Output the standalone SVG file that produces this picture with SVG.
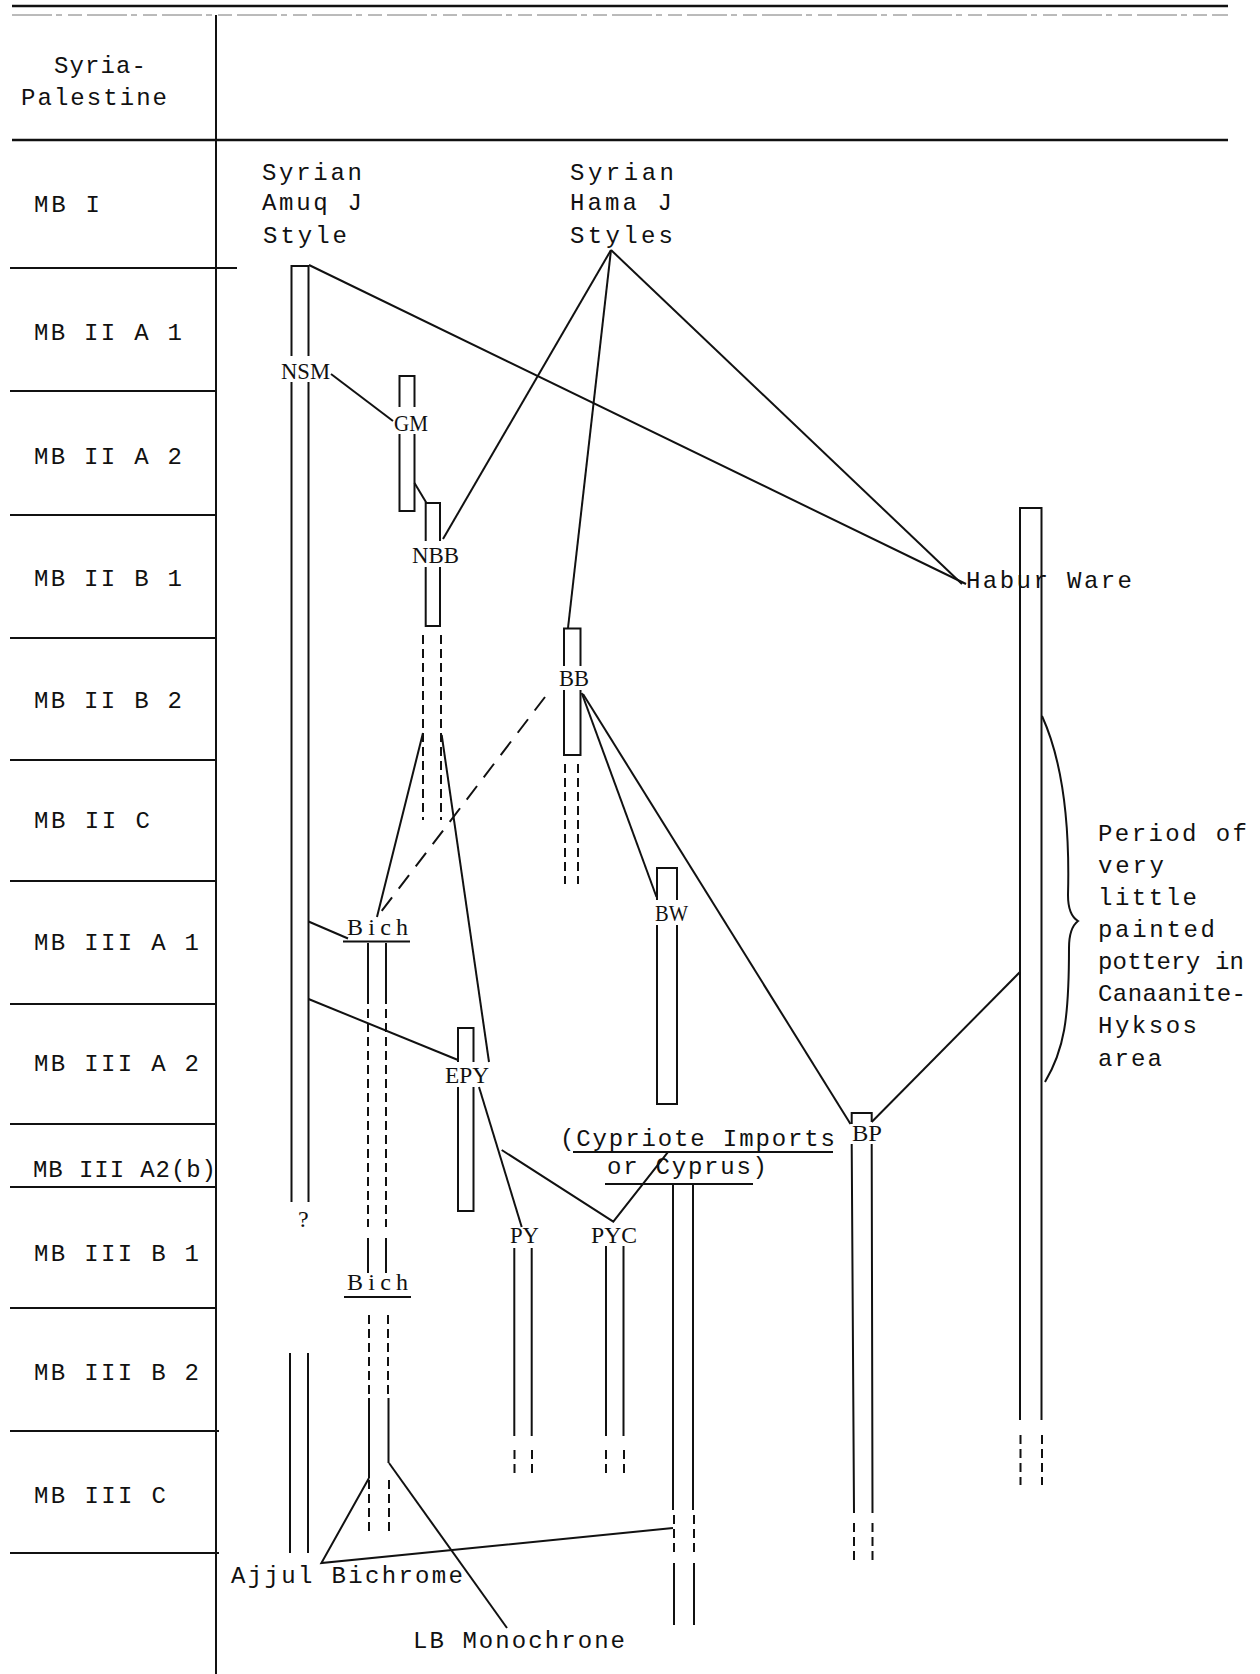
<svg xmlns="http://www.w3.org/2000/svg" width="1260" height="1674" viewBox="0 0 1260 1674">
<style>
.ln{stroke:#111;stroke-width:2;fill:none}
.th{stroke:#111;stroke-width:2.6;fill:none}
.dash{stroke-dasharray:9 5}
.ldash{stroke-dasharray:17 11}
.mono{font-family:'Liberation Mono','Courier New',monospace;font-size:24px;fill:#111}
.lab{font-family:'Liberation Serif','Times New Roman',serif;font-size:24px;fill:#111}
.mask{fill:#fff}
</style>
<rect width="1260" height="1674" fill="#fff"/>
<g id="table">
<line class="th" x1="12" y1="6" x2="1228" y2="6"/>
<line x1="12" y1="15" x2="1228" y2="15" stroke="#777" stroke-width="1" stroke-dasharray="40 4 6 6 14 5"/>
<line class="th" x1="12" y1="140" x2="1228" y2="140"/>
<line class="ln" x1="216" y1="15" x2="216" y2="1674"/>
<g class="ln">
<line x1="10" y1="268" x2="237" y2="268"/>
<line x1="10" y1="391" x2="216" y2="391"/>
<line x1="10" y1="515" x2="216" y2="515"/>
<line x1="10" y1="638" x2="216" y2="638"/>
<line x1="10" y1="760" x2="216" y2="760"/>
<line x1="10" y1="881" x2="216" y2="881"/>
<line x1="10" y1="1004" x2="216" y2="1004"/>
<line x1="10" y1="1124" x2="216" y2="1124"/>
<line x1="10" y1="1187" x2="216" y2="1187"/>
<line x1="10" y1="1308" x2="216" y2="1308"/>
<line x1="10" y1="1431" x2="219" y2="1431"/>
<line x1="10" y1="1553" x2="219" y2="1553"/>
</g>
<text class="mono" x="54" y="73" textLength="92">Syria-</text>
<text class="mono" x="21" y="105" textLength="146">Palestine</text>
<text class="mono" x="34" y="212" textLength="66">MB I</text>
<text class="mono" x="34" y="340" textLength="148">MB II A 1</text>
<text class="mono" x="34" y="464" textLength="148">MB II A 2</text>
<text class="mono" x="34" y="586" textLength="148">MB II B 1</text>
<text class="mono" x="34" y="708" textLength="148">MB II B 2</text>
<text class="mono" x="34" y="828" textLength="116">MB II C</text>
<text class="mono" x="34" y="950" textLength="165">MB III A 1</text>
<text class="mono" x="34" y="1071" textLength="165">MB III A 2</text>
<text class="mono" x="33" y="1177" textLength="183">MB III A2(b)</text>
<text class="mono" x="34" y="1261" textLength="165">MB III B 1</text>
<text class="mono" x="34" y="1380" textLength="165">MB III B 2</text>
<text class="mono" x="34" y="1503" textLength="132">MB III C</text>
</g>
<g id="amuq-source">
<text class="mono" x="262" y="180" textLength="100">Syrian</text>
<text class="mono" x="262" y="210" textLength="100">Amuq J</text>
<text class="mono" x="263" y="243" textLength="84">Style</text>
</g>
<g id="hama-source">
<text class="mono" x="570" y="180" textLength="104">Syrian</text>
<text class="mono" x="570" y="210" textLength="102">Hama J</text>
<text class="mono" x="570" y="243" textLength="103">Styles</text>
</g>
<g id="nsm">
<path class="ln" d="M291.5,1202 V266 H308.5 V1202"/>
<rect class="mask" x="279" y="356" width="53" height="26"/>
<text class="lab" x="281" y="379" textLength="49" lengthAdjust="spacingAndGlyphs">NSM</text>
<text class="lab" x="298" y="1227">?</text>
<path class="ln" d="M290,1353 V1553 M308,1353 V1553"/>
</g>
<g id="gm">
<rect class="ln" x="399.5" y="376" width="15" height="135"/>
<rect class="mask" x="393" y="407" width="36" height="27"/>
<text class="lab" x="394" y="431" textLength="34" lengthAdjust="spacingAndGlyphs">GM</text>
</g>
<g id="nbb">
<rect class="ln" x="425.7" y="503" width="14.3" height="123"/>
<rect class="mask" x="411" y="541" width="50" height="26"/>
<text class="lab" x="412" y="563" textLength="47" lengthAdjust="spacingAndGlyphs">NBB</text>
<path class="ln dash" d="M423,635 V820 M441,635 V820"/>
</g>
<g id="bb">
<rect class="ln" x="564" y="628.5" width="16.5" height="126.5"/>
<rect class="mask" x="558" y="666" width="33" height="24"/>
<text class="lab" x="559" y="686" textLength="30" lengthAdjust="spacingAndGlyphs">BB</text>
<path class="ln dash" d="M565,764 V884 M578,764 V884"/>
</g>
<g id="bw">
<rect class="ln" x="657" y="868" width="20" height="236"/>
<rect class="mask" x="654" y="900" width="35" height="25"/>
<text class="lab" x="655" y="921" textLength="33" lengthAdjust="spacingAndGlyphs">BW</text>
</g>
<g id="bich">
<text class="lab" x="347" y="935" font-size="25" textLength="61">Bich</text>
<line class="ln" x1="343" y1="941.5" x2="410" y2="941.5" stroke-width="1.6"/>
<path class="ln" d="M368,943 V995 M386,943 V995 M368,1238 V1273 M386,1238 V1273"/>
<path class="ln dash" d="M368,995 V1227 M386,995 V1227"/>
<text class="lab" x="347" y="1290" font-size="25" textLength="61">Bich</text>
<line class="ln" x1="344" y1="1297" x2="411" y2="1297" stroke-width="1.6"/>
<path class="ln dash" d="M369,1315 V1397 M388,1315 V1397 M369,1480 V1532 M389,1480 V1532"/>
<path class="ln" d="M369,1398 V1478 M388.5,1398 V1463"/>
</g>
<g id="epy">
<rect class="ln" x="458" y="1028" width="15.5" height="183"/>
<rect class="mask" x="444" y="1062" width="46" height="25"/>
<text class="lab" x="445" y="1083" textLength="44" lengthAdjust="spacingAndGlyphs">EPY</text>
</g>
<g id="py">
<text class="lab" x="510" y="1243" textLength="29" lengthAdjust="spacingAndGlyphs">PY</text>
<path class="ln" d="M514.3,1248 V1436 M531.7,1248 V1436"/>
<path class="ln dash" d="M514.5,1450 V1476 M532,1450 V1476"/>
</g>
<g id="pyc">
<text class="lab" x="591" y="1243" textLength="46" lengthAdjust="spacingAndGlyphs">PYC</text>
<path class="ln" d="M606,1246 V1436 M623.5,1246 V1436"/>
<path class="ln dash" d="M606,1450 V1476 M624,1450 V1476"/>
</g>
<g id="cypriote">
<text class="mono" x="560" y="1146" textLength="275">(Cypriote Imports</text>
<line class="ln" x1="573" y1="1152" x2="833" y2="1152" stroke-width="1.4"/>
<text class="mono" x="607" y="1174" textLength="160">or Cyprus)</text>
<line class="ln" x1="605" y1="1184" x2="753" y2="1184" stroke-width="1.4"/>
<path class="ln" d="M673,1185 V1510 M693,1185 V1510 M674,1563 V1625 M694,1563 V1625"/>
<path class="ln dash" d="M674,1515 V1557 M694,1515 V1557"/>
</g>
<g id="bp">
<path class="ln" d="M851.7,1124 V1113 H871.7 V1122"/>
<text class="lab" x="852" y="1141" textLength="30" lengthAdjust="spacingAndGlyphs">BP</text>
<path class="ln" d="M851.7,1144 L854,1513 M871.7,1144 L872.5,1513"/>
<path class="ln dash" d="M854,1523 V1560 M872.5,1523 V1560"/>
</g>
<g id="habur">
<path class="ln" d="M1020,1420 V508 H1041.5 V1420"/>
<path class="ln dash" d="M1020.5,1435 V1485 M1042,1435 V1485"/>
<text class="mono" x="966" y="588" textLength="166">Habur Ware</text>
</g>
<g id="period-note">
<path class="ln" d="M1042,716 C1062,760 1070,820 1068,895 Q1068,915 1078,921 Q1069,928 1069,948 C1069,1020 1064,1050 1045,1082"/>
<text class="mono" x="1098" y="841" textLength="149">Period of</text>
<text class="mono" x="1098" y="873" textLength="66">very</text>
<text class="mono" x="1098" y="905" textLength="99">little</text>
<text class="mono" x="1098" y="937" textLength="117">painted</text>
<text class="mono" x="1098" y="969" textLength="146">pottery in</text>
<text class="mono" x="1098" y="1001" textLength="148">Canaanite-</text>
<text class="mono" x="1098" y="1033" textLength="99">Hyksos</text>
<text class="mono" x="1098" y="1066" textLength="64">area</text>
</g>
<g id="ajjul">
<text class="mono" x="231" y="1583" textLength="232">Ajjul Bichrome</text>
</g>
<g id="lb-mono">
<text class="mono" x="413" y="1648" textLength="212">LB Monochrone</text>
</g>
<g id="connectors" class="ln">
<line x1="309" y1="265" x2="966" y2="584"/>
<line x1="611" y1="250" x2="443" y2="539"/>
<line x1="611" y1="250" x2="568" y2="628"/>
<line x1="611" y1="250" x2="962" y2="584"/>
<line x1="331" y1="374" x2="393" y2="421"/>
<line x1="414.5" y1="483" x2="426.5" y2="503"/>
<line x1="423" y1="733" x2="377" y2="917"/>
<line x1="441.7" y1="735" x2="489" y2="1062"/>
<line class="ldash" x1="545" y1="697" x2="377" y2="917"/>
<line x1="581.7" y1="693" x2="656.5" y2="897"/>
<line x1="583" y1="694" x2="850.5" y2="1124"/>
<line x1="871.7" y1="1122" x2="1020" y2="972"/>
<line x1="308.5" y1="921.5" x2="348" y2="938.5"/>
<line x1="308.5" y1="999" x2="458" y2="1060"/>
<line x1="479" y1="1087" x2="521.7" y2="1227"/>
<polyline points="501.7,1150 613.3,1221.7 668.3,1151.7"/>
<polyline points="369,1478 321.4,1563 673,1528"/>
<line x1="389" y1="1463" x2="507" y2="1628"/>
</g>
</svg>
